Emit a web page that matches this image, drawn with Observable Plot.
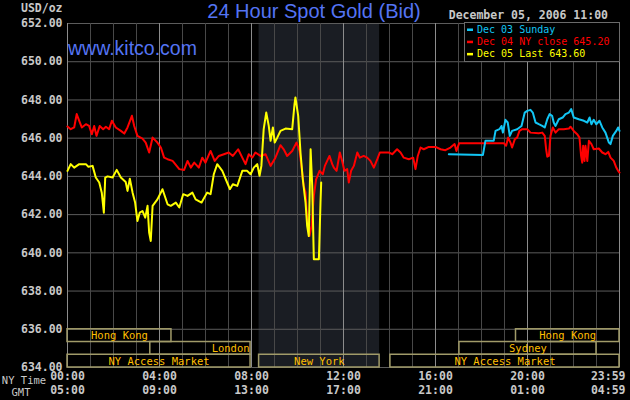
<!DOCTYPE html>
<html><head><meta charset="utf-8">
<script src="https://cdn.jsdelivr.net/npm/d3@7"></script>
<script src="https://cdn.jsdelivr.net/npm/@observablehq/plot@0.6"></script>
<style>html,body{margin:0;padding:0;background:#000;} svg{display:block;}</style>
</head><body><div id="chart"></div>
<script>
// ---------- DATA ----------
const titleText = "24 Hour Spot Gold (Bid)";
const siteText = "www.kitco.com";
const unitText = "USD/oz";
const stampText = "December 05, 2006 11:00";
const legendLabels = ["Dec 03 Sunday", "Dec 04 NY close 645.20", "Dec 05 Last 643.60"];
const yTicks = [634, 636, 638, 640, 642, 644, 646, 648, 650, 652];
const tickHours = [0, 4, 8, 12, 16, 20, 24];
const nyLabels = ["00:00", "04:00", "08:00", "12:00", "16:00", "20:00", "23:59"];
const gmtLabels = ["05:00", "09:00", "13:00", "17:00", "21:00", "01:00", "04:59"];
const rowNames = ["NY Time", "GMT"];

const sessionNames = ["Hong Kong", "London", "NY Access Market", "New York", "NY Access Market", "Sydney", "Hong Kong"];
const sessionStart = [0, 3.6, 0, 8.33, 14.04, 17.04, 19.5];
const sessionEnd = [4.52, 7.96, 7.96, 13.57, 24, 23, 24];
const sessionRow = [0, 1, 2, 2, 2, 1, 0];

// Dec 05 (yellow)
const dec05Hours = [0,0.14,0.29,0.51,0.80,0.91,1.09,1.23,1.38,1.49,1.58,1.64,1.74,1.96,2.14,2.32,2.53,2.61,2.71,2.83,2.94,3.04,3.14,3.26,3.38,3.48,3.55,3.62,3.70,3.91,4.13,4.35,4.49,4.71,4.86,5.03,5.22,5.43,5.57,5.83,6.07,6.22,6.36,6.51,6.73,6.94,7.06,7.19,7.38,7.60,7.81,7.96,8.10,8.25,8.35,8.43,8.53,8.64,8.75,8.83,8.93,9.01,9.12,9.26,9.48,9.77,9.87,9.91,10.03,10.13,10.23,10.35,10.42,10.49,10.57,10.64,10.71,10.93,11.00,11.03];
const dec05Prices = [644.29,644.64,644.46,644.64,644.64,644.5,644.55,643.94,643.68,643.15,642.1,643.94,644.0,643.94,644.34,643.94,643.71,643.24,643.88,643.15,642.63,641.67,642.1,642.19,641.84,642.46,641.06,640.62,642.46,642.8,643.33,642.54,642.46,642.63,642.37,643.07,642.98,643.15,642.8,642.63,643.15,643.07,644.11,644.64,644.29,643.68,643.33,643.59,643.5,644.29,644.29,644.11,644.46,644.64,644.03,644.55,646.47,647.34,646.64,645.86,646.56,645.77,646.03,646.38,646.5,646.47,647.78,648.13,647.17,645.25,643.85,642.63,641.41,640.88,645.42,643.5,639.67,639.67,642.63,643.68];

// Dec 04 (red)
const dec04Hours = [0,0.14,0.29,0.40,0.51,0.62,0.80,0.94,1.06,1.16,1.26,1.40,1.55,1.67,1.81,1.93,2.10,2.32,2.47,2.61,2.80,2.90,3.04,3.26,3.40,3.55,3.70,3.91,4.06,4.20,4.35,4.57,4.86,5.07,5.22,5.36,5.51,5.71,5.86,6.00,6.22,6.40,6.58,6.80,7.01,7.19,7.42,7.60,7.74,7.88,8.03,8.17,8.39,8.61,8.83,9.04,9.26,9.40,9.55,9.77,9.96,10.09,10.17,10.27,10.35,10.42,10.52,10.61,10.71,10.81,10.96,11.10,11.19,11.29,11.39,11.51,11.58,11.70,11.84,11.94,12.04,12.16,12.23,12.33,12.45,12.60,12.71,12.88,13.03,13.17,13.32,13.47,13.58,13.97,14.12,14.33,14.48,14.62,14.84,15.03,15.13,15.23,15.35,15.49,15.71,16.00,16.22,16.43,16.65,16.83,16.91,17.03,18.97,19.07,19.16,19.26,19.33,19.45,19.55,19.65,19.77,19.99,20.13,20.49,20.64,20.75,20.81,20.86,20.93,21.00,21.10,21.22,21.36,21.58,21.80,21.87,22.01,22.16,22.26,22.33,22.38,22.42,22.48,22.52,22.60,22.67,22.78,22.88,23.10,23.25,23.39,23.51,23.61,23.75,23.86,23.94,24.00];
const dec04Prices = [646.61,646.47,646.56,647.26,646.91,646.56,646.73,646.64,646.21,646.64,646.12,646.64,646.47,646.6,646.47,646.91,646.56,646.38,646.24,646.56,647.17,646.64,646.12,645.98,645.77,645.25,646.03,645.77,645.51,644.98,644.9,644.81,644.38,644.34,644.81,644.46,644.72,644.46,644.98,644.72,645.33,644.81,645.07,645.16,645.25,645.07,645.42,644.98,644.64,645.16,644.98,645.25,645.07,645.16,644.55,644.98,645.63,645.42,645.07,645.33,645.77,645.33,644.55,643.5,643.15,641.76,640.88,641.41,642.98,643.85,644.29,644.11,644.55,644.81,645.07,644.64,644.46,644.29,645.25,644.81,644.29,644.38,643.68,644.29,644.55,645.25,644.98,645.07,644.98,644.81,644.46,644.9,645.25,645.25,645.16,645.42,645.25,644.98,644.9,644.98,644.38,645.07,645.51,645.42,645.54,645.54,645.42,645.37,645.51,645.69,645.33,645.74,645.74,645.6,646.03,645.77,645.51,645.95,646.03,646.38,646.47,646.47,646.29,646.26,646.29,646.12,645.42,645.03,645.07,646.12,646.56,646.29,646.47,646.47,646.5,646.6,646.38,646.21,646.03,645.07,644.72,645.6,644.81,645.6,644.81,645.86,645.69,645.42,645.46,645.25,645.16,645.28,644.98,644.81,644.46,644.29,644.2];

// Dec 03 Sunday (cyan)
const dec03Hours = [16.58,18.06,18.17,18.53,18.61,18.78,18.87,18.93,19.04,19.14,19.23,19.33,19.55,19.74,19.88,19.99,20.13,20.23,20.35,20.49,20.64,20.75,20.86,20.96,21.07,21.14,21.22,21.36,21.53,21.65,21.80,21.90,22.01,22.23,22.45,22.60,22.70,22.78,22.88,22.99,23.13,23.25,23.39,23.54,23.61,23.71,23.86,23.94,24.00];
const dec03Prices = [645.16,645.12,645.86,645.86,646.38,646.47,646.64,646.29,646.96,646.82,646.12,646.38,646.47,646.64,647.34,647.43,647.48,647.34,646.82,646.73,646.64,646.56,646.99,647.26,647.17,646.82,646.64,646.99,647.08,647.26,647.34,647.52,647.08,646.99,646.91,646.82,647.08,646.73,646.96,646.73,646.91,646.56,646.29,645.77,645.69,646.12,646.38,646.56,646.38];

// ---------- BUILD ----------
const mono = "'DejaVu Sans Mono', monospace";
const sans = "'Liberation Sans', Arial, sans-serif";
const toPts = (hs, ps) => hs.map((h, i) => ({hour: h, price: ps[i]}));
const dec05 = toPts(dec05Hours, dec05Prices);
const dec04 = toPts(dec04Hours, dec04Prices);
const dec03 = toPts(dec03Hours, dec03Prices);
const sessions = sessionNames.map((name, i) => ({name, start: sessionStart[i], end: sessionEnd[i], row: sessionRow[i]}));
const rowH = 2 / 3;
const rowTop = r => 636 - r * rowH;
const shade = sessions.filter(d => d.name === "New York");
const majorHours = d3.range(0, 25, 4);
const minorHours = d3.range(0, 25).filter(h => h % 4);
const idx = d3.range(tickHours.length);
const idxMain = idx.slice(0, -1);
const idxLast = idx.slice(-1);
const labelColor = "#ffbf00";
const tickColor = "#c8c8c8";

const plot = Plot.plot({
  width: 630, height: 400,
  marginLeft: 67, marginRight: 11, marginTop: 23, marginBottom: 33,
  x: {domain: [0, 24], axis: null},
  y: {domain: [634, 652], axis: null},
  style: {background: "#000", color: tickColor, fontFamily: mono, overflow: "visible"},
  marks: [
    Plot.rect(shade, {x1: "start", x2: "end", y1: 634, y2: 652, fill: "#1a1d23"}),
    Plot.ruleY(yTicks, {stroke: "#5c5c5c"}),
    Plot.ruleX(minorHours, {stroke: "#484848"}),
    Plot.ruleX(majorHours, {stroke: "#8c8c8c"}),
    Plot.rect(sessions, {x1: "start", x2: "end", y1: d => rowTop(d.row) - rowH, y2: d => rowTop(d.row),
      stroke: "#a19b69", strokeWidth: 1.5, fill: "none"}),
    Plot.text(sessions.filter(d => d.name !== "London"), {x: d => (d.start + d.end) / 2, y: d => rowTop(d.row) - rowH / 2,
      text: "name", fill: labelColor, fontSize: 10.5}),
    Plot.text(sessions.filter(d => d.name === "London"), {x: "end", y: d => rowTop(d.row) - rowH / 2,
      text: "name", fill: labelColor, fontSize: 10.5, textAnchor: "end", dx: -1}),
    Plot.line(dec04, {x: "hour", y: "price", stroke: "#ff0000", strokeWidth: 2}),
    Plot.line(dec03, {x: "hour", y: "price", stroke: "#12c6f5", strokeWidth: 2}),
    Plot.line(dec05, {x: "hour", y: "price", stroke: "#ffff00", strokeWidth: 2}),
    Plot.text(yTicks, {frameAnchor: "left", y: d => d, text: d => d.toFixed(2), textAnchor: "end", dx: -5,
      fontWeight: "bold", fontSize: 11.5, fill: tickColor}),
    Plot.text(idxMain, {x: i => tickHours[i], frameAnchor: "bottom", dy: 12, text: i => nyLabels[i],
      fontWeight: "bold", fontSize: 11.5, fill: tickColor}),
    Plot.text(idxMain, {x: i => tickHours[i], frameAnchor: "bottom", dy: 26, text: i => gmtLabels[i],
      fontWeight: "bold", fontSize: 11.5, fill: tickColor}),
    Plot.text(idxLast, {x: i => tickHours[i], frameAnchor: "bottom", dy: 12, text: i => nyLabels[i],
      textAnchor: "end", dx: 6, fontWeight: "bold", fontSize: 11.5, fill: tickColor}),
    Plot.text(idxLast, {x: i => tickHours[i], frameAnchor: "bottom", dy: 26, text: i => gmtLabels[i],
      textAnchor: "end", dx: 6, fontWeight: "bold", fontSize: 11.5, fill: tickColor})
  ]
});

const svg = d3.select(plot);
const addText = (x, y, txt, opts) => {
  const t = svg.append("text").attr("x", x).attr("y", y)
    .attr("text-anchor", opts.anchor || "start")
    .attr("font-family", opts.family || mono)
    .attr("font-size", opts.size || 11.5)
    .attr("font-weight", opts.weight || "normal")
    .attr("fill", opts.fill || tickColor);
  if (opts.baseline) t.attr("dominant-baseline", opts.baseline);
  t.text(txt);
  return t;
};
addText(314, 18, titleText, {anchor: "middle", family: sans, size: 20, fill: "#5474f4"});
addText(68, 55, siteText, {family: sans, size: 19.5, fill: "#5474f4"});
addText(21, 12, unitText, {weight: "bold"});
addText(608, 19, stampText, {anchor: "end", weight: "bold"});
addText(24, 384, rowNames[0], {anchor: "middle", size: 10.5});
addText(21, 396, rowNames[1], {anchor: "middle", size: 10.5});

// Legend
const legendColors = ["#12c6f5", "#ff0000", "#ffff00"];
svg.append("rect").attr("x", 464.5).attr("y", 22.5).attr("width", 155).attr("height", 39)
  .attr("fill", "#000").attr("stroke", "#6a6a6a");
legendLabels.forEach((t, i) => {
  const cy = 29.5 + i * 12.2;
  svg.append("rect").attr("x", 467).attr("y", cy - 1).attr("width", 6).attr("height", 2.5).attr("fill", legendColors[i]);
  addText(477, cy, t, {size: 10, fill: legendColors[i], baseline: "central"});
});

document.getElementById("chart").appendChild(plot);
</script>
</body></html>
